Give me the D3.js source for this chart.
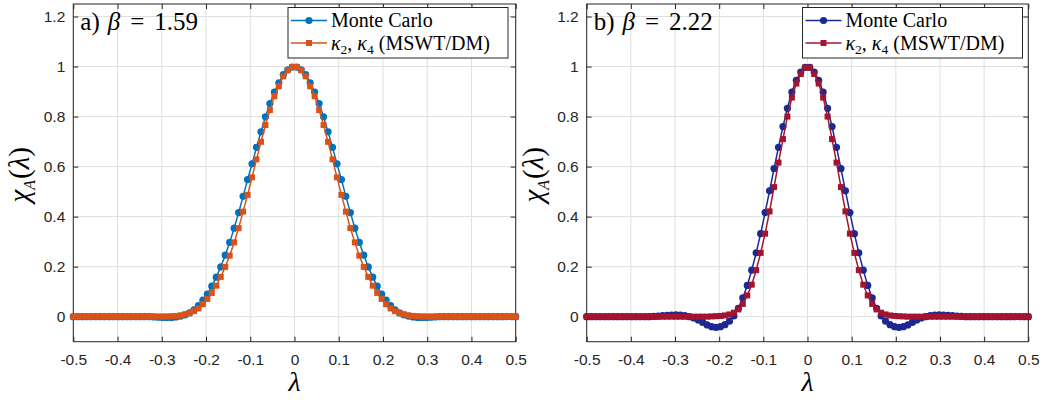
<!DOCTYPE html>
<html>
<head>
<meta charset="utf-8">
<script src="https://cdn.jsdelivr.net/npm/d3@7"></script>
<style>
  html, body { margin: 0; padding: 0; background: #ffffff; }
  svg { display: block; }
  .tick text { font-family: "Liberation Sans", Arial, sans-serif; font-size: 15.5px; fill: #262626; }
  .serif { font-family: "Liberation Serif", "DejaVu Serif", serif; fill: #000; }
</style>
</head>
<body>
<figure id="chart" style="margin:0"></figure>
<script>
// lambda grid (100 samples between -0.5 and 0.5)
const lambdaValues = [
  -0.5000,-0.4899,-0.4798,-0.4697,-0.4596,-0.4495,-0.4394,-0.4293,-0.4192,-0.4091,
  -0.3990,-0.3889,-0.3788,-0.3687,-0.3586,-0.3485,-0.3384,-0.3283,-0.3182,-0.3081,
  -0.2980,-0.2879,-0.2778,-0.2677,-0.2576,-0.2475,-0.2374,-0.2273,-0.2172,-0.2071,
  -0.1970,-0.1869,-0.1768,-0.1667,-0.1566,-0.1465,-0.1364,-0.1263,-0.1162,-0.1061,
  -0.0960,-0.0859,-0.0758,-0.0657,-0.0556,-0.0455,-0.0354,-0.0253,-0.0152,-0.0051,
  0.0051,0.0152,0.0253,0.0354,0.0455,0.0556,0.0657,0.0758,0.0859,0.0960,
  0.1061,0.1162,0.1263,0.1364,0.1465,0.1566,0.1667,0.1768,0.1869,0.1970,
  0.2071,0.2172,0.2273,0.2374,0.2475,0.2576,0.2677,0.2778,0.2879,0.2980,
  0.3081,0.3182,0.3283,0.3384,0.3485,0.3586,0.3687,0.3788,0.3889,0.3990,
  0.4091,0.4192,0.4293,0.4394,0.4495,0.4596,0.4697,0.4798,0.4899,0.5000
];

// panel a) beta = 1.59
const monteCarloA = [
  0,0,0,0,0,0,0,0,0,0,
  0,0,0,0,0,0,0,0,-0.001,-0.002,
  -0.003,-0.003,-0.003,-0.001,0.002,0.007,0.015,0.027,0.044,0.066,
  0.090,0.122,0.158,0.199,0.246,0.297,0.354,0.416,0.481,0.548,
  0.611,0.677,0.739,0.799,0.852,0.898,0.935,0.968,0.987,0.998,
  0.998,0.987,0.968,0.935,0.898,0.852,0.799,0.739,0.677,0.611,
  0.548,0.481,0.416,0.354,0.297,0.246,0.199,0.158,0.122,0.090,
  0.066,0.044,0.027,0.015,0.007,0.002,-0.001,-0.003,-0.003,-0.003,
  -0.002,-0.001,0,0,0,0,0,0,0,0,
  0,0,0,0,0,0,0,0,0,0
];
const kappaA = [
  0,0,0,0,0,0,0,0,0,0,
  0,0,0,0,0,0,0,0,0,0,
  0.001,0.001,0.002,0.003,0.005,0.009,0.014,0.022,0.033,0.050,
  0.071,0.095,0.124,0.159,0.199,0.244,0.297,0.354,0.420,0.487,
  0.557,0.629,0.699,0.766,0.826,0.881,0.921,0.961,0.986,0.998,
  0.998,0.986,0.961,0.921,0.881,0.826,0.766,0.699,0.629,0.557,
  0.487,0.420,0.354,0.297,0.244,0.199,0.159,0.124,0.095,0.071,
  0.050,0.033,0.022,0.014,0.009,0.005,0.003,0.002,0.001,0.001,
  0,0,0,0,0,0,0,0,0,0,
  0,0,0,0,0,0,0,0,0,0
];

// panel b) beta = 2.22
const monteCarloB = [
  0,0,0,0,0,0,0,0,0,0,
  0,0,0,0,0,0.001,0.002,0.004,0.005,0.006,
  0.007,0.006,0.004,0.000,-0.005,-0.013,-0.023,-0.033,-0.040,-0.043,
  -0.040,-0.032,-0.018,0.003,0.033,0.075,0.125,0.186,0.255,0.332,
  0.416,0.503,0.592,0.677,0.760,0.833,0.898,0.945,0.978,0.997,
  0.997,0.978,0.945,0.898,0.833,0.760,0.677,0.592,0.503,0.416,
  0.332,0.255,0.186,0.125,0.075,0.033,0.003,-0.018,-0.032,-0.040,
  -0.043,-0.040,-0.033,-0.023,-0.013,-0.005,0.000,0.004,0.006,0.007,
  0.006,0.005,0.004,0.002,0.001,0,0,0,0,0,
  0,0,0,0,0,0,0,0,0,0
];
const kappaB = [
  0,0,0,0,0,0,0,0,0,0,
  0,0,0,0,0,0,0,0,0,0,
  0,0,0,0,0,0,0,0,0.001,0.002,
  0.003,0.005,0.009,0.016,0.029,0.051,0.085,0.128,0.186,0.255,
  0.332,0.421,0.518,0.616,0.710,0.800,0.876,0.932,0.970,0.996,
  0.996,0.970,0.932,0.876,0.800,0.710,0.616,0.518,0.421,0.332,
  0.255,0.186,0.128,0.085,0.051,0.029,0.016,0.009,0.005,0.003,
  0.002,0.001,0,0,0,0,0,0,0,0,
  0,0,0,0,0,0,0,0,0,0,
  0,0,0,0,0,0,0,0,0,0
];

const xTicks = [-0.5,-0.4,-0.3,-0.2,-0.1,0,0.1,0.2,0.3,0.4,0.5];
const yTicks = [0,0.2,0.4,0.6,0.8,1,1.2];
const xDomain = [-0.5, 0.5];
const yDomain = [-0.1, 1.25];
const seriesNames = ["Monte Carlo", "kappa"];
const panelLabels = [["a)", "1.59"], ["b)", "2.22"]];

const width = 1043;
const height = 400;
const plotTop = 4, plotBottom = 341.7;

const panels = [
  { left: 73.3, right: 515.7, label: panelLabels[0], mc: monteCarloA, kappa: kappaA,
    colors: ["#0072BD", "#D95319"], legendX: 288 },
  { left: 586.7, right: 1028.3, label: panelLabels[1], mc: monteCarloB, kappa: kappaB,
    colors: ["#1B2A8F", "#A2142F"], legendX: 802.5 }
];

const svg = d3.select("figure#chart")
  .append("svg")
  .attr("width", width)
  .attr("height", height);

function fmt(d) { return String(+d.toFixed(1)); }

function drawPanel(p) {
  const xScale = d3.scaleLinear().domain(xDomain).range([p.left, p.right]);
  const yScale = d3.scaleLinear().domain(yDomain).range([plotBottom, plotTop]);
  const g = svg.append("g");

  // grid
  g.append("g").selectAll("line").data(xTicks).join("line")
    .attr("x1", d => xScale(d)).attr("x2", d => xScale(d))
    .attr("y1", plotTop).attr("y2", plotBottom)
    .attr("stroke", "#dfdfdf").attr("stroke-width", 1);
  g.append("g").selectAll("line").data(yTicks).join("line")
    .attr("y1", d => yScale(d)).attr("y2", d => yScale(d))
    .attr("x1", p.left).attr("x2", p.right)
    .attr("stroke", "#dfdfdf").attr("stroke-width", 1);

  // axes, ticks pointing inwards
  const ax = [
    g.append("g").attr("transform", `translate(0,${plotBottom})`)
      .call(d3.axisBottom(xScale).tickValues(xTicks).tickFormat(fmt).tickSize(-5).tickSizeOuter(0).tickPadding(12)),
    g.append("g").attr("transform", `translate(0,${plotTop})`)
      .call(d3.axisTop(xScale).tickValues(xTicks).tickFormat("").tickSize(-5).tickSizeOuter(0)),
    g.append("g").attr("transform", `translate(${p.left},0)`)
      .call(d3.axisLeft(yScale).tickValues(yTicks).tickFormat(fmt).tickSize(-5).tickSizeOuter(0).tickPadding(8)),
    g.append("g").attr("transform", `translate(${p.right},0)`)
      .call(d3.axisRight(yScale).tickValues(yTicks).tickFormat("").tickSize(-5).tickSizeOuter(0))
  ];
  ax.forEach(a => {
    a.select(".domain").remove();
    a.selectAll(".tick line").attr("stroke", "#262626");
  });
  g.append("rect")
    .attr("x", p.left).attr("y", plotTop)
    .attr("width", p.right - p.left).attr("height", plotBottom - plotTop)
    .attr("fill", "none").attr("stroke", "#262626").attr("stroke-width", 1);

  // series
  const line = d3.line().x((d, i) => xScale(lambdaValues[i])).y(d => yScale(d));
  g.append("path").datum(p.mc).attr("d", line)
    .attr("fill", "none").attr("stroke", p.colors[0]).attr("stroke-width", 1.5);
  g.append("g").selectAll("circle").data(p.mc).join("circle")
    .attr("cx", (d, i) => xScale(lambdaValues[i])).attr("cy", d => yScale(d))
    .attr("r", 3.6).attr("fill", p.colors[0]);
  g.append("path").datum(p.kappa).attr("d", line)
    .attr("fill", "none").attr("stroke", p.colors[1]).attr("stroke-width", 1.5);
  g.append("g").selectAll("rect").data(p.kappa).join("rect")
    .attr("x", (d, i) => xScale(lambdaValues[i]) - 3).attr("y", d => yScale(d) - 3)
    .attr("width", 6).attr("height", 6).attr("fill", p.colors[1]);

  // panel label
  const t = g.append("text").attr("class", "serif")
    .attr("x", p.left + 7).attr("y", 30).attr("font-size", 25);
  t.append("tspan").text(p.label[0]);
  t.append("tspan").attr("font-style", "italic").attr("dx", 8).text("β");
  t.append("tspan").attr("dx", 10).text("=");
  t.append("tspan").attr("dx", 10).text(p.label[1]);

  // legend
  const lx = p.legendX, lw = 220;
  const lg = g.append("g");
  lg.append("rect").attr("x", lx).attr("y", 7.5).attr("width", lw).attr("height", 50.5)
    .attr("fill", "#fff").attr("stroke", "#262626").attr("stroke-width", 1);
  [20.5, 43].forEach((cy, k) => {
    lg.append("line").attr("x1", lx + 3).attr("x2", lx + 39).attr("y1", cy).attr("y2", cy)
      .attr("stroke", p.colors[k]).attr("stroke-width", 1.5);
    if (k === 0) {
      lg.append("circle").attr("cx", lx + 21).attr("cy", cy).attr("r", 3.6).attr("fill", p.colors[k]);
    } else {
      lg.append("rect").attr("x", lx + 18).attr("y", cy - 3).attr("width", 6).attr("height", 6).attr("fill", p.colors[k]);
    }
  });
  lg.append("text").attr("class", "serif").attr("x", lx + 43).attr("y", 27).attr("font-size", 20)
    .text(seriesNames[0]);
  const k2 = lg.append("text").attr("class", "serif").attr("x", lx + 43).attr("y", 49.5).attr("font-size", 20);
  k2.append("tspan").attr("font-style", "italic").text("κ");
  k2.append("tspan").attr("font-size", 13.5).attr("dy", 4).text("2");
  k2.append("tspan").attr("dy", -4).text(", ");
  k2.append("tspan").attr("font-style", "italic").text("κ");
  k2.append("tspan").attr("font-size", 13.5).attr("dy", 4).text("4");
  k2.append("tspan").attr("dy", -4).text(" (MSWT/DM)");

  // axis labels
  g.append("text").attr("class", "serif")
    .attr("x", (p.left + p.right) / 2).attr("y", 391)
    .attr("text-anchor", "middle").attr("font-size", 28).attr("font-style", "italic")
    .text("λ");
  const yl = g.append("text").attr("class", "serif")
    .attr("transform", `translate(${p.left - 44},${(plotTop + plotBottom) / 2 + 2}) rotate(-90)`)
    .attr("text-anchor", "middle").attr("font-size", 29);
  yl.append("tspan").attr("font-style", "italic").text("χ");
  yl.append("tspan").attr("font-size", 16).attr("font-style", "italic").attr("dy", 6).text("A");
  yl.append("tspan").attr("dy", -6).attr("dx", 1).text("(");
  yl.append("tspan").attr("font-style", "italic").text("λ");
  yl.append("tspan").text(")");
}

panels.forEach(drawPanel);
</script>
</body>
</html>
